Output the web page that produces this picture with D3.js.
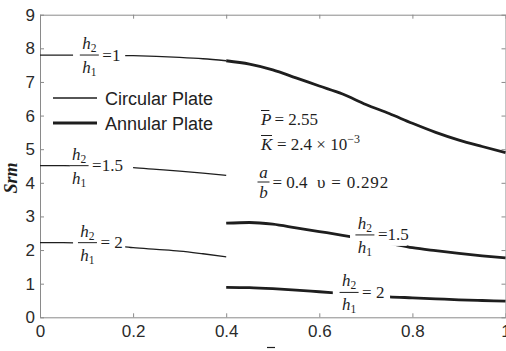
<!DOCTYPE html>
<html>
<head>
<meta charset="utf-8">
<script src="https://cdn.jsdelivr.net/npm/d3@7"></script>
<style>
  body { margin: 0; background: #fff; }
  svg { display: block; }
</style>
</head>
<body>
<svg id="chart" width="506" height="351"></svg>
<script>
// Tick values
const xTicks = [0, 0.2, 0.4, 0.6, 0.8, 1];
const yTicks = [0, 1, 2, 3, 4, 5, 6, 7, 8, 9];

// Circular plate (0 <= r <= 0.4)
const circX   = [0, 0.05, 0.10, 0.15, 0.20, 0.25, 0.30, 0.35, 0.40];
const circH1  = [7.80, 7.80, 7.79, 7.79, 7.78, 7.76, 7.73, 7.69, 7.63];
const circH15 = [4.51, 4.51, 4.50, 4.48, 4.45, 4.40, 4.35, 4.29, 4.22];
const circH2  = [2.22, 2.22, 2.20, 2.15, 2.07, 2.02, 1.97, 1.89, 1.80];

// Annular plate (0.4 <= r <= 1)
const annX   = [0.40, 0.45, 0.50, 0.55, 0.60, 0.65, 0.70, 0.75, 0.80, 0.85, 0.90, 0.95, 1.00];
const annH1  = [7.63, 7.53, 7.36, 7.12, 6.88, 6.64, 6.33, 6.06, 5.77, 5.50, 5.27, 5.08, 4.90];
const annH15 = [2.80, 2.82, 2.77, 2.66, 2.55, 2.44, 2.32, 2.20, 2.07, 1.98, 1.90, 1.83, 1.77];
const annH2  = [0.89, 0.88, 0.85, 0.81, 0.76, 0.71, 0.66, 0.61, 0.58, 0.55, 0.52, 0.50, 0.48];

const svg = d3.select("#chart");
const plotL = 40, plotR = 505.5, plotT = 14.7, plotB = 317.3;
const x = d3.scaleLinear().domain([0, 1]).range([plotL, plotR]);
const y = d3.scaleLinear().domain([0, 9]).range([plotB, plotT]);

const ink = "#1e1e1e";
const axisGrey = "#8a8a8a";
const serif = "'Liberation Serif', 'DejaVu Serif', serif";
const sans = "'Liberation Sans', Arial, sans-serif";

// Axes (boxed, inward ticks)
function styleAxis(g) {
  g.select(".domain").attr("stroke", axisGrey).attr("stroke-width", 1);
  g.selectAll(".tick line").attr("stroke", axisGrey);
  g.selectAll(".tick text").attr("fill", "#2a2a2a").attr("font-family", sans).attr("font-size", 17);
}
const fmt = d => (d === 0 ? "0" : d === 1 ? "1" : String(d));

svg.append("g").attr("transform", `translate(0,${plotB})`)
  .call(d3.axisBottom(x).tickValues(xTicks).tickFormat(fmt).tickSizeInner(-4).tickSizeOuter(0).tickPadding(8))
  .call(styleAxis);
svg.append("g").attr("transform", `translate(0,${plotT})`)
  .call(d3.axisTop(x).tickValues(xTicks).tickFormat("").tickSizeInner(-4).tickSizeOuter(0))
  .call(styleAxis);
svg.append("g").attr("transform", `translate(${plotL},0)`)
  .call(d3.axisLeft(y).tickValues(yTicks).tickFormat(d3.format("d")).tickSizeInner(-4).tickSizeOuter(0).tickPadding(5))
  .call(styleAxis);
svg.append("g").attr("transform", `translate(${plotR},0)`)
  .call(d3.axisRight(y).tickValues(yTicks).tickFormat("").tickSizeInner(-4).tickSizeOuter(0))
  .call(styleAxis);

// Curves
const line = d3.line().x(d => x(d[0])).y(d => y(d[1])).curve(d3.curveMonotoneX);
const series = [
  { xs: circX, ys: circH1,  w: 1.3 },
  { xs: circX, ys: circH15, w: 1.3 },
  { xs: circX, ys: circH2,  w: 1.3 },
  { xs: annX,  ys: annH1,   w: 2.8 },
  { xs: annX,  ys: annH15,  w: 2.8 },
  { xs: annX,  ys: annH2,   w: 2.8 }
];
svg.append("g").selectAll("path").data(series).join("path")
  .attr("d", s => line(s.xs.map((v, i) => [v, s.ys[i]])))
  .attr("fill", "none").attr("stroke", ink).attr("stroke-width", s => s.w)
  .attr("stroke-linejoin", "round");

// Inline h2/h1 labels, each breaking its curve
const ratioLabels = [
  { cx: 0.106, cy: 7.80, text: "=1",   gap: [0.071, 0.183] },
  { cx: 0.084, cy: 4.51, text: "=1.5", gap: [0.064, 0.200] },
  { cx: 0.102, cy: 2.22, text: "= 2",  gap: [0.071, 0.183] },
  { cx: 0.698, cy: 2.45, text: "=1.5", gap: [0.666, 0.788] },
  { cx: 0.664, cy: 0.74, text: "= 2",  gap: [0.629, 0.752] }
];
const lg = svg.append("g");
ratioLabels.forEach(l => {
  const px = x(l.cx), py = y(l.cy);
  lg.append("rect")
    .attr("x", x(l.gap[0])).attr("width", x(l.gap[1]) - x(l.gap[0]))
    .attr("y", py - 9).attr("height", 20).attr("fill", "#fff");
  const num = lg.append("text").attr("x", px).attr("y", py - 6)
    .attr("text-anchor", "middle").attr("font-family", serif).attr("font-size", 17).attr("fill", ink);
  num.append("tspan").attr("font-style", "italic").text("h");
  num.append("tspan").attr("font-size", 11.5).attr("dy", 3).text("2");
  lg.append("line").attr("x1", px - 9.5).attr("x2", px + 9.5).attr("y1", py).attr("y2", py)
    .attr("stroke", ink).attr("stroke-width", 1);
  const den = lg.append("text").attr("x", px).attr("y", py + 18)
    .attr("text-anchor", "middle").attr("font-family", serif).attr("font-size", 17).attr("fill", ink);
  den.append("tspan").attr("font-style", "italic").text("h");
  den.append("tspan").attr("font-size", 11.5).attr("dy", 3).text("1");
  lg.append("text").attr("x", px + 13).attr("y", py + 5.5)
    .attr("font-family", serif).attr("font-size", 17).attr("fill", ink).text(l.text);
});

// Legend
const legend = svg.append("g");
[{ label: "Circular Plate", w: 1.3, yy: 98 }, { label: "Annular Plate", w: 3, yy: 123 }].forEach(e => {
  legend.append("line").attr("x1", 53).attr("x2", 97).attr("y1", e.yy).attr("y2", e.yy)
    .attr("stroke", ink).attr("stroke-width", e.w);
  legend.append("text").attr("x", 105).attr("y", e.yy + 6.5)
    .attr("font-family", sans).attr("font-size", 18).attr("fill", "#222").text(e.label);
});

// Parameter block
const pg = svg.append("g").attr("font-family", serif).attr("font-size", 17).attr("fill", ink);
function overSym(xx, yy, sym) {
  const t = pg.append("text").attr("x", xx).attr("y", yy).attr("font-style", "italic").text(sym);
  const b = t.node().getBBox();
  pg.append("line").attr("x1", b.x + 1).attr("x2", b.x + b.width - 2)
    .attr("y1", yy - 14.5).attr("y2", yy - 14.5).attr("stroke", ink).attr("stroke-width", 1);
  return b.x + b.width;
}
const e1 = overSym(261, 125, "P");
pg.append("text").attr("x", e1 + 3).attr("y", 125).text("= 2.55");
const e2 = overSym(261, 150, "K");
const kt = pg.append("text").attr("x", e2 + 3).attr("y", 150);
kt.append("tspan").text("= 2.4 \u00d7 10");
kt.append("tspan").attr("font-size", 12).attr("dy", -7).text("\u22123");

// a/b and Poisson ratio
const fx = 263.5, fy = 182;
pg.append("text").attr("x", fx).attr("y", fy - 4).attr("text-anchor", "middle").attr("font-style", "italic").text("a");
pg.append("line").attr("x1", fx - 6).attr("x2", fx + 6).attr("y1", fy).attr("y2", fy).attr("stroke", ink).attr("stroke-width", 1);
pg.append("text").attr("x", fx).attr("y", fy + 16).attr("text-anchor", "middle").attr("font-style", "italic").text("b");
pg.append("text").attr("x", fx + 9).attr("y", fy + 6).text("= 0.4");
pg.append("text").attr("x", 317).attr("y", fy + 6).attr("letter-spacing", 0.8).text("\u03c5 = 0.292");

// Axis titles
svg.append("text").attr("transform", "translate(17,178) rotate(-90)")
  .attr("text-anchor", "middle").attr("font-family", serif).attr("font-size", 18)
  .attr("font-style", "italic").attr("font-weight", "bold").attr("fill", ink).text("Srm");
svg.append("text").attr("x", 271).attr("y", 361).attr("text-anchor", "middle")
  .attr("font-family", serif).attr("font-size", 18).attr("font-style", "italic").attr("font-weight", "bold")
  .attr("fill", ink).text("r");
svg.append("line").attr("x1", 267).attr("x2", 275).attr("y1", 347.5).attr("y2", 347.5)
  .attr("stroke", ink).attr("stroke-width", 1.2);
</script>
</body>
</html>
